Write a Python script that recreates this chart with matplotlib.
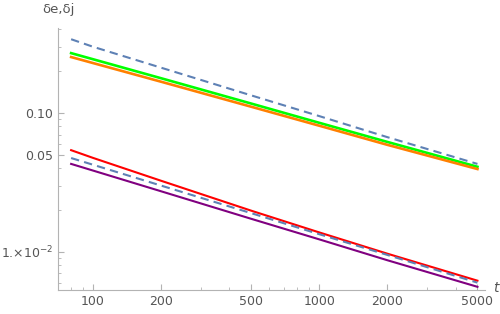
import numpy as np
import matplotlib.pyplot as plt
from matplotlib.ticker import FixedLocator, FixedFormatter, NullFormatter

t = [80, 100, 200, 500, 1000, 2000, 5000]

# upper group
green = [0.27, 0.244, 0.178, 0.117, 0.085, 0.0619, 0.041]
orange = [0.253, 0.229, 0.168, 0.111, 0.081, 0.059, 0.0395]
dash_upper = [0.34, 0.30, 0.212, 0.134, 0.095, 0.067, 0.043]

# lower group
red = [0.054, 0.0475, 0.0325, 0.0198, 0.0138, 0.0097, 0.0062]
purple = [0.043, 0.0385, 0.0273, 0.0173, 0.0123, 0.0087, 0.0056]
dash_lower = [0.0474, 0.0424, 0.030, 0.019, 0.0134, 0.0095, 0.006]

x_major = [100, 200, 500, 1000, 2000, 5000]
x_minor = [70, 80, 90, 300, 400, 600, 700, 800, 900, 3000, 4000]
y_major = [0.01, 0.05, 0.1]
y_major_labels = [r"1.$\times$10$^{-2}$", "0.05", "0.10"]
y_minor = [0.006, 0.007, 0.008, 0.009, 0.02, 0.03, 0.04,
           0.06, 0.07, 0.08, 0.09, 0.2, 0.3, 0.4]

plt.rcParams["mathtext.default"] = "regular"
gray = "#555555"
axis_gray = "#b3b3b3"
blue = "#5e81b5"

fig = plt.figure(figsize=(5, 3.14), dpi=100)
ax = fig.add_axes([0.116, 0.076, 0.854, 0.835])

ax.plot(t, green, color="#00ff00", lw=1.9)
ax.plot(t, orange, color="#ff8000", lw=1.9)
ax.plot(t, dash_upper, color=blue, lw=1.5, dashes=(4, 2.5))
ax.plot(t, red, color="#ff0000", lw=1.5)
ax.plot(t, purple, color="#800080", lw=1.5)
ax.plot(t, dash_lower, color=blue, lw=1.5, dashes=(4, 2.5))

ax.set_xscale("log")
ax.set_yscale("log")
ax.set_xlim(70, 5400)
ax.set_ylim(0.0053, 0.41)

ax.xaxis.set_major_locator(FixedLocator(x_major))
ax.xaxis.set_major_formatter(FixedFormatter([str(v) for v in x_major]))
ax.xaxis.set_minor_locator(FixedLocator(x_minor))
ax.xaxis.set_minor_formatter(NullFormatter())
ax.yaxis.set_major_locator(FixedLocator(y_major))
ax.yaxis.set_major_formatter(FixedFormatter(y_major_labels))
ax.yaxis.set_minor_locator(FixedLocator(y_minor))
ax.yaxis.set_minor_formatter(NullFormatter())

for side in ["top", "right"]:
    ax.spines[side].set_visible(False)
for side in ["left", "bottom"]:
    ax.spines[side].set_color(axis_gray)
    ax.spines[side].set_linewidth(0.8)

ax.tick_params(which="both", direction="in", color=axis_gray, labelcolor=gray,
               labelsize=9)
ax.tick_params(which="major", length=4, width=0.8)
ax.tick_params(which="minor", length=2.5, width=0.6)

fig.text(58 / 500, 1 - 9 / 314, "δe,δj", color=gray, fontsize=9.5,
         ha="center", va="center")
fig.text(496 / 500, 1 - 288 / 314, "t", color=gray, fontsize=10,
         style="italic", ha="center", va="center")

fig.savefig("out.png", dpi=100)
